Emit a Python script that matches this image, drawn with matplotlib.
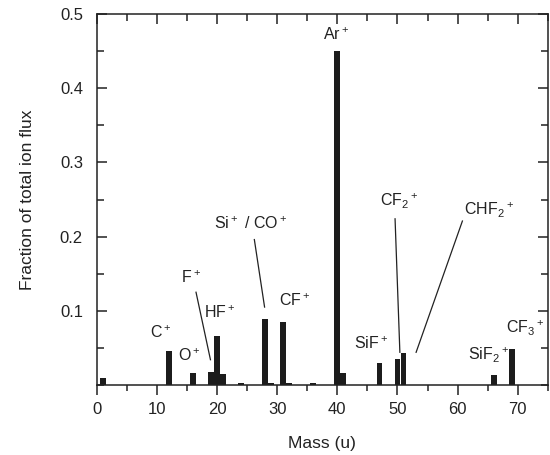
import matplotlib
matplotlib.use("Agg")
from matplotlib import pyplot as plt
from matplotlib.ticker import MultipleLocator

plt.rcParams['font.family'] = ['Liberation Sans', 'DejaVu Sans']
plt.rcParams['mathtext.default'] = 'regular'

# ion mass (u) and fraction of total ion flux
masses = [1, 12, 16, 19, 20, 21, 24, 28, 29, 31, 32, 36, 40, 41, 47, 50, 51, 66, 69]
fractions = [0.009, 0.046, 0.016, 0.018, 0.066, 0.015, 0.002, 0.089, 0.003, 0.085,
             0.003, 0.002, 0.450, 0.016, 0.030, 0.035, 0.043, 0.013, 0.049]

# labels: text, label position, optional leader line (start, end)
labels = [
    ("C$^+$", (10.7, 0.070), None),
    ("O$^+$", (15.4, 0.040), None),
    ("F$^+$", (15.7, 0.145), ((16.5, 0.125), (18.9, 0.034))),
    ("HF$^+$", (20.5, 0.098), None),
    ("Si$^+$ / CO$^+$", (25.6, 0.217), ((26.2, 0.196), (27.9, 0.105))),
    ("CF$^+$", (32.9, 0.114), None),
    ("Ar$^+$", (39.8, 0.472), None),
    ("SiF$^+$", (45.6, 0.056), None),
    ("CF$_2{}^+$", (50.3, 0.248), ((49.6, 0.224), (50.4, 0.044))),
    ("CHF$_2{}^+$", (65.3, 0.235), ((60.8, 0.221), (53.1, 0.044))),
    ("SiF$_2{}^+$", (65.2, 0.040), None),
    ("CF$_3{}^+$", (71.2, 0.076), None),
]

ink = "#222222"

fig = plt.figure(figsize=(5.5, 4.55), dpi=100)
ax = fig.add_axes([0.176, 0.154, 0.82, 0.815])

ax.bar(masses, fractions, width=0.95, color="#1c1c1c", linewidth=0)

for txt, pos, line in labels:
    ax.text(pos[0], pos[1], txt, ha="center", va="center", fontsize=11.5, color=ink)
    if line is not None:
        ax.plot([line[0][0], line[1][0]], [line[0][1], line[1][1]], color=ink, lw=0.9)

ax.set_xlim(0, 75)
ax.set_ylim(0, 0.5)
ax.xaxis.set_major_locator(MultipleLocator(10))
ax.xaxis.set_minor_locator(MultipleLocator(5))
ax.yaxis.set_major_locator(MultipleLocator(0.1))
ax.yaxis.set_minor_locator(MultipleLocator(0.05))
ax.set_yticks([0.1, 0.2, 0.3, 0.4, 0.5])

ax.tick_params(axis="x", which="both", direction="out", top=False, colors=ink,
               labelsize=12, pad=5)
ax.tick_params(axis="x", which="major", length=7, width=1.1)
ax.tick_params(axis="x", which="minor", length=4, width=1.1)
ax.tick_params(axis="y", which="both", direction="in", right=True, colors=ink,
               labelsize=12, pad=10)
ax.tick_params(axis="y", which="major", length=7, width=1.1)
ax.tick_params(axis="y", which="minor", length=5, width=1.1)

# inward ticks along the top edge
top = ax.secondary_xaxis("top")
top.xaxis.set_major_locator(MultipleLocator(10))
top.xaxis.set_minor_locator(MultipleLocator(5))
top.tick_params(which="both", direction="in", labeltop=False, colors=ink, width=1.1)
top.tick_params(which="major", length=7)
top.tick_params(which="minor", length=5)

for s in ax.spines.values():
    s.set_color(ink)
    s.set_linewidth(1.1)
top.spines["top"].set_visible(False)

ax.set_xlabel("Mass (u)", fontsize=12.5, color=ink, labelpad=14)
ax.set_ylabel("Fraction of total ion flux", fontsize=12.5, color=ink, labelpad=18)

fig.savefig("out.png", dpi=100)
